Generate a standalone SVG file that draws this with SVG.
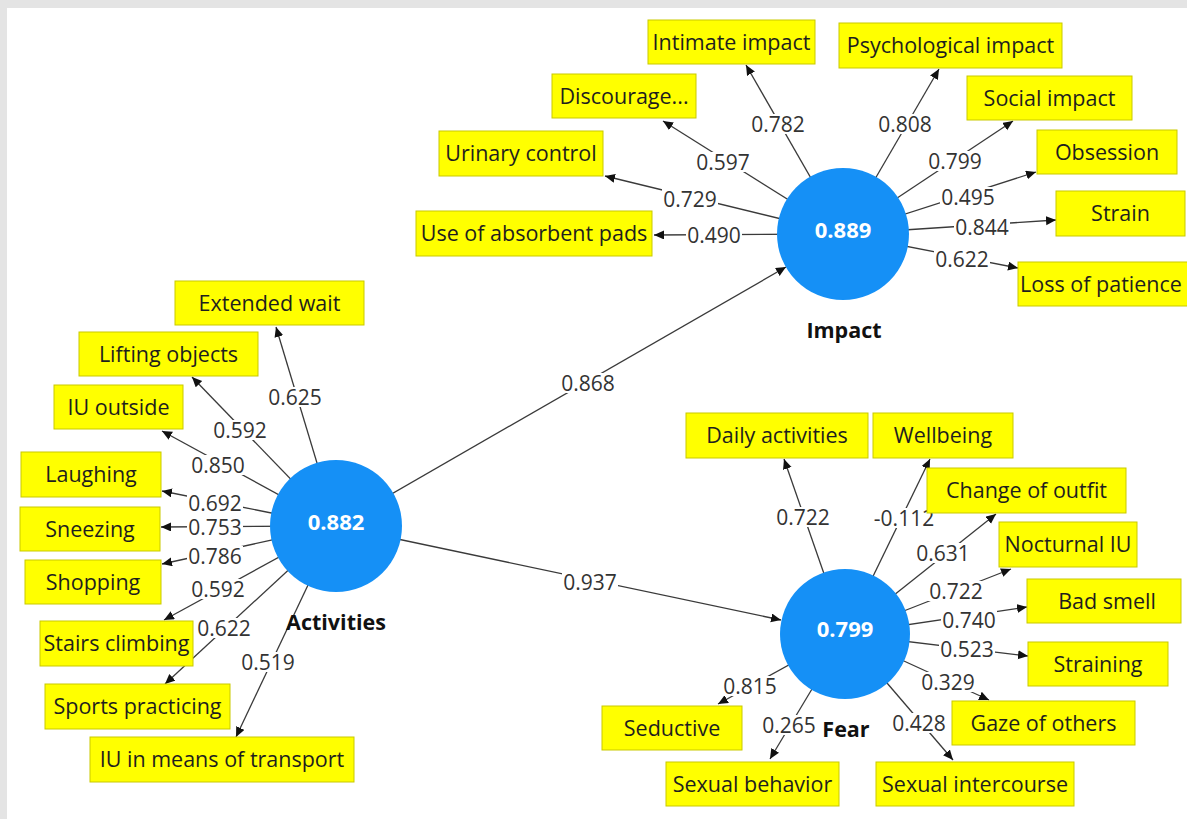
<svg xmlns="http://www.w3.org/2000/svg" width="1187" height="819" viewBox="0 0 1187 819">
<style>
.box{fill:#ffff00;stroke:#c9c900;stroke-width:1}
.bt{font-family:"Open Sans","Noto Sans",sans-serif;font-size:21.5px;fill:#1e1e1e;text-anchor:middle}
.lv{fill:#1590f6}
.ct{font-family:"Open Sans","Noto Sans",sans-serif;font-size:22px;font-weight:bold;fill:#ffffff;text-anchor:middle}
.nt{font-family:"Open Sans","Noto Sans",sans-serif;font-size:21.5px;font-weight:bold;fill:#111;text-anchor:middle}
.e{stroke:#3a3a3a;stroke-width:1.3;fill:none;marker-end:url(#ah)}
.lb{fill:#ffffff}
.el{font-family:"Open Sans","Noto Sans",sans-serif;font-size:21px;fill:#333;text-anchor:middle}
</style>
<defs>
<marker id="ah" markerUnits="userSpaceOnUse" markerWidth="11" markerHeight="10" refX="10" refY="4.5" orient="auto">
<path d="M0,0 L10,4.5 L0,9 z" fill="#111"/>
</marker>
</defs>
<rect x="0" y="0" width="1187" height="819" fill="#e4e4e4"/>
<rect x="7" y="8" width="1180" height="811" fill="#ffffff"/>

<g id="connectors">
<line class="e" x1="336" y1="526" x2="276" y2="327"/>
<line class="e" x1="336" y1="526" x2="192" y2="377"/>
<line class="e" x1="336" y1="526" x2="162" y2="431"/>
<line class="e" x1="336" y1="526" x2="162" y2="491"/>
<line class="e" x1="336" y1="526" x2="161" y2="527"/>
<line class="e" x1="336" y1="526" x2="162" y2="564"/>
<line class="e" x1="336" y1="526" x2="164" y2="620"/>
<line class="e" x1="336" y1="526" x2="165" y2="684"/>
<line class="e" x1="336" y1="526" x2="236" y2="737"/>
<line class="e" x1="843" y1="234" x2="746" y2="65"/>
<line class="e" x1="843" y1="234" x2="663" y2="121"/>
<line class="e" x1="843" y1="234" x2="605" y2="176"/>
<line class="e" x1="843" y1="234" x2="654" y2="235"/>
<line class="e" x1="843" y1="234" x2="939" y2="69"/>
<line class="e" x1="843" y1="234" x2="1013" y2="121"/>
<line class="e" x1="843" y1="234" x2="1036" y2="172"/>
<line class="e" x1="843" y1="234" x2="1056" y2="220"/>
<line class="e" x1="843" y1="234" x2="1018" y2="268"/>
<line class="e" x1="845" y1="634" x2="784" y2="459"/>
<line class="e" x1="845" y1="634" x2="930" y2="459"/>
<line class="e" x1="845" y1="634" x2="996" y2="514"/>
<line class="e" x1="845" y1="634" x2="1011" y2="569"/>
<line class="e" x1="845" y1="634" x2="1027" y2="607"/>
<line class="e" x1="845" y1="634" x2="1028" y2="656"/>
<line class="e" x1="845" y1="634" x2="989" y2="700"/>
<line class="e" x1="845" y1="634" x2="953" y2="760"/>
<line class="e" x1="845" y1="634" x2="770" y2="759"/>
<line class="e" x1="845" y1="634" x2="718" y2="704"/>
<line class="e" x1="336" y1="526" x2="786" y2="267"/>
<line class="e" x1="336" y1="526" x2="781" y2="620"/>

<rect class="lb" x="267" y="387" width="56" height="20"/>
<rect class="lb" x="212" y="420" width="56" height="20"/>
<rect class="lb" x="190" y="455" width="56" height="20"/>
<rect class="lb" x="187" y="494" width="56" height="19"/>
<rect class="lb" x="187" y="518" width="56" height="19"/>
<rect class="lb" x="187" y="546" width="56" height="20"/>
<rect class="lb" x="190" y="579" width="56" height="20"/>
<rect class="lb" x="196" y="618" width="56" height="20"/>
<rect class="lb" x="240" y="652" width="56" height="20"/>
<rect class="lb" x="750" y="114" width="56" height="20"/>
<rect class="lb" x="695" y="152" width="56" height="20"/>
<rect class="lb" x="662" y="189" width="56" height="20"/>
<rect class="lb" x="686" y="225" width="56" height="20"/>
<rect class="lb" x="877" y="114" width="56" height="20"/>
<rect class="lb" x="927" y="151" width="56" height="20"/>
<rect class="lb" x="940" y="187" width="56" height="20"/>
<rect class="lb" x="954" y="217" width="56" height="20"/>
<rect class="lb" x="934" y="249" width="56" height="20"/>
<rect class="lb" x="775" y="507" width="56" height="20"/>
<rect class="lb" x="872" y="508" width="64" height="20"/>
<rect class="lb" x="915" y="543" width="56" height="20"/>
<rect class="lb" x="928" y="581" width="56" height="20"/>
<rect class="lb" x="941" y="610" width="56" height="20"/>
<rect class="lb" x="939" y="639" width="56" height="20"/>
<rect class="lb" x="920" y="672" width="56" height="20"/>
<rect class="lb" x="891" y="713" width="56" height="20"/>
<rect class="lb" x="761" y="715" width="56" height="20"/>
<rect class="lb" x="722" y="676" width="56" height="20"/>
<rect class="lb" x="560" y="373" width="56" height="20"/>
<rect class="lb" x="562" y="572" width="56" height="20"/>

<text class="el" x="295" y="404.5">0.625</text>
<text class="el" x="240" y="437.5">0.592</text>
<text class="el" x="218" y="472.5">0.850</text>
<text class="el" x="215" y="510.5">0.692</text>
<text class="el" x="215" y="534.5">0.753</text>
<text class="el" x="215" y="563.5">0.786</text>
<text class="el" x="218" y="596.5">0.592</text>
<text class="el" x="224" y="635.5">0.622</text>
<text class="el" x="268" y="669.5">0.519</text>
<text class="el" x="778" y="131.5">0.782</text>
<text class="el" x="723" y="169.5">0.597</text>
<text class="el" x="690" y="206.5">0.729</text>
<text class="el" x="714" y="242.5">0.490</text>
<text class="el" x="905" y="131.5">0.808</text>
<text class="el" x="955" y="168.5">0.799</text>
<text class="el" x="968" y="204.5">0.495</text>
<text class="el" x="982" y="234.5">0.844</text>
<text class="el" x="962" y="266.5">0.622</text>
<text class="el" x="803" y="524.5">0.722</text>
<text class="el" x="904" y="525.5">-0.112</text>
<text class="el" x="943" y="560.5">0.631</text>
<text class="el" x="956" y="598.5">0.722</text>
<text class="el" x="969" y="627.5">0.740</text>
<text class="el" x="967" y="656.5">0.523</text>
<text class="el" x="948" y="689.5">0.329</text>
<text class="el" x="919" y="730.5">0.428</text>
<text class="el" x="789" y="732.5">0.265</text>
<text class="el" x="750" y="693.5">0.815</text>
<text class="el" x="588" y="390.5">0.868</text>
<text class="el" x="590" y="589.5">0.937</text>
</g>

<g id="activities"><circle class="lv" cx="336" cy="526" r="66"/><text class="ct" x="336" y="530">0.882</text><text class="nt" x="336" y="630">Activities</text></g>
<g id="impact"><circle class="lv" cx="843" cy="234" r="66"/><text class="ct" x="843" y="238">0.889</text><text class="nt" x="844" y="338">Impact</text></g>
<g id="fear"><circle class="lv" cx="845" cy="634" r="65"/><text class="ct" x="845" y="637">0.799</text><text class="nt" x="846" y="737">Fear</text></g>

<g id="extended-wait"><rect class="box" x="175" y="281" width="189" height="44"/><text class="bt" x="269.5" y="311">Extended wait</text></g>
<g id="lifting-objects"><rect class="box" x="79" y="332" width="179" height="44"/><text class="bt" x="168.5" y="362">Lifting objects</text></g>
<g id="iu-outside"><rect class="box" x="54" y="385" width="129" height="44"/><text class="bt" x="118.5" y="415">IU outside</text></g>
<g id="laughing"><rect class="box" x="21" y="452" width="140" height="45"/><text class="bt" x="91" y="482">Laughing</text></g>
<g id="sneezing"><rect class="box" x="20" y="507" width="140" height="44"/><text class="bt" x="90" y="537">Sneezing</text></g>
<g id="shopping"><rect class="box" x="25" y="560" width="136" height="44"/><text class="bt" x="93" y="590">Shopping</text></g>
<g id="stairs-climbing"><rect class="box" x="40" y="621" width="153" height="45"/><text class="bt" x="116.5" y="651">Stairs climbing</text></g>
<g id="sports-practicing"><rect class="box" x="45" y="684" width="185" height="45"/><text class="bt" x="137.5" y="714">Sports practicing</text></g>
<g id="iu-transport"><rect class="box" x="90" y="737" width="264" height="45"/><text class="bt" x="222" y="767">IU in means of transport</text></g>

<g id="intimate-impact"><rect class="box" x="648" y="20" width="167" height="44"/><text class="bt" x="731.5" y="50">Intimate impact</text></g>
<g id="discourage"><rect class="box" x="552" y="74" width="144" height="44"/><text class="bt" x="624" y="104">Discourage...</text></g>
<g id="urinary-control"><rect class="box" x="439" y="131" width="164" height="45"/><text class="bt" x="521" y="161">Urinary control</text></g>
<g id="absorbent-pads"><rect class="box" x="416" y="211" width="236" height="45"/><text class="bt" x="534" y="241">Use of absorbent pads</text></g>
<g id="psychological-impact"><rect class="box" x="839" y="23" width="223" height="45"/><text class="bt" x="950.5" y="53">Psychological impact</text></g>
<g id="social-impact"><rect class="box" x="967" y="76" width="165" height="44"/><text class="bt" x="1049.5" y="106">Social impact</text></g>
<g id="obsession"><rect class="box" x="1037" y="130" width="140" height="44"/><text class="bt" x="1107" y="160">Obsession</text></g>
<g id="strain"><rect class="box" x="1056" y="191" width="129" height="45"/><text class="bt" x="1120.5" y="221">Strain</text></g>
<g id="loss-of-patience"><rect class="box" x="1018" y="262" width="170" height="44"/><text class="bt" x="1101" y="292">Loss of patience</text></g>

<g id="daily-activities"><rect class="box" x="686" y="413" width="182" height="45"/><text class="bt" x="777" y="443">Daily activities</text></g>
<g id="wellbeing"><rect class="box" x="873" y="413" width="140" height="45"/><text class="bt" x="943" y="443">Wellbeing</text></g>
<g id="change-of-outfit"><rect class="box" x="927" y="468" width="199" height="45"/><text class="bt" x="1026.5" y="498">Change of outfit</text></g>
<g id="nocturnal-iu"><rect class="box" x="999" y="522" width="138" height="45"/><text class="bt" x="1068" y="552">Nocturnal IU</text></g>
<g id="bad-smell"><rect class="box" x="1027" y="579" width="154" height="44"/><text class="bt" x="1107" y="609">Bad smell</text></g>
<g id="straining"><rect class="box" x="1028" y="642" width="140" height="44"/><text class="bt" x="1098" y="672">Straining</text></g>
<g id="gaze-of-others"><rect class="box" x="952" y="701" width="183" height="44"/><text class="bt" x="1043.5" y="731">Gaze of others</text></g>
<g id="sexual-intercourse"><rect class="box" x="876" y="762" width="198" height="44"/><text class="bt" x="975" y="792">Sexual intercourse</text></g>
<g id="sexual-behavior"><rect class="box" x="666" y="762" width="173" height="44"/><text class="bt" x="752.5" y="792">Sexual behavior</text></g>
<g id="seductive"><rect class="box" x="602" y="706" width="140" height="44"/><text class="bt" x="672" y="736">Seductive</text></g>
</svg>
